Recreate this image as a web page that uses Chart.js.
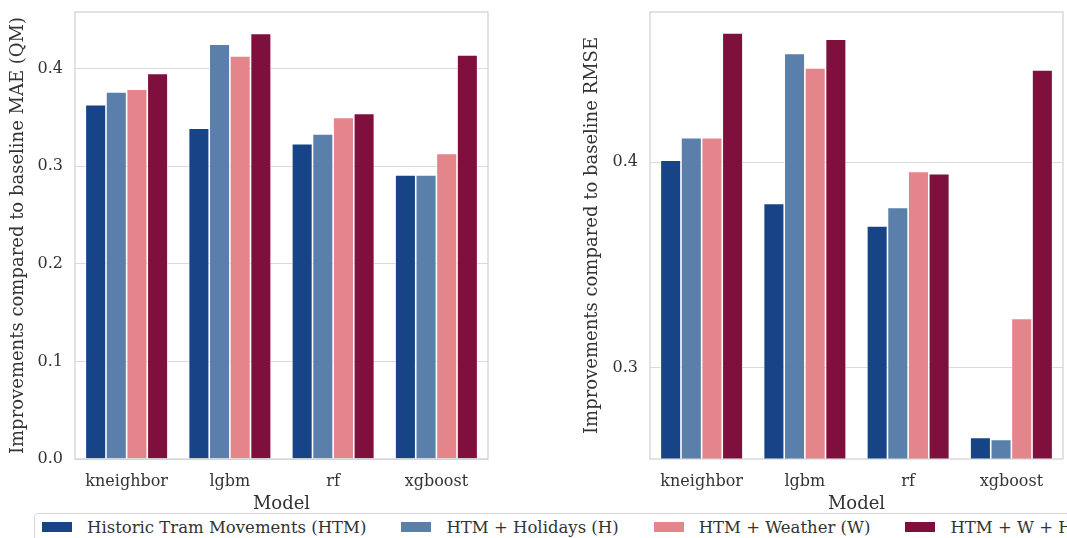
<!DOCTYPE html>
<html>
<head>
<meta charset="utf-8">
<script src="https://cdn.jsdelivr.net/npm/chart.js@4"></script>
<style>
  html, body { margin:0; padding:0; background:#fff; width:1067px; height:538px; overflow:hidden; position:relative; }
  .cw { position:absolute; top:0; }
  #legend { position:absolute; left:34px; top:513px; height:40px; border:1px solid #d6d6d6; border-radius:4px;
            display:flex; align-items:flex-start; white-space:nowrap; padding-left:7px; padding-right:20px;
            font-family:"DejaVu Serif", serif; font-size:16.5px; color:#333; background:#fff; }
  .item { display:flex; align-items:center; height:26px; margin-right:35px; }
  .sw { width:30px; height:10px; margin-right:15px; }
</style>
</head>
<body>
<div class="cw" style="left:0px;width:500px;height:515px;"><canvas id="c1"></canvas></div>
<div class="cw" style="left:574px;width:493px;height:515px;"><canvas id="c2"></canvas></div>
<div id="legend"></div>
<script>
const models = ['kneighbor', 'lgbm', 'rf', 'xgboost'];
const seriesNames = ['Historic Tram Movements (HTM)', 'HTM + Holidays (H)', 'HTM + Weather (W)', 'HTM + W + H'];
const seriesColors = ['#164487', '#5a7fab', '#e3858b', '#7f0f3c'];

const maeHTM = [0.363, 0.339, 0.323, 0.291];
const maeH   = [0.376, 0.425, 0.333, 0.291];
const maeW   = [0.379, 0.413, 0.350, 0.313];
const maeWH  = [0.395, 0.436, 0.354, 0.414];

const rmseHTM = [0.401, 0.380, 0.369, 0.266];
const rmseH   = [0.412, 0.453, 0.378, 0.265];
const rmseW   = [0.412, 0.446, 0.3955, 0.324];
const rmseWH  = [0.463, 0.460, 0.3945, 0.445];

const maeTitle = 'Improvements compared to baseline MAE (QM)';
const rmseTitle = 'Improvements compared to baseline RMSE';
const xTitle = 'Model';

const FONT = '"DejaVu Serif", serif';
const TXT = '#333';
const GRID = '#d9d9d9';

const boxPlugin = {
  id: 'box',
  afterDatasetsDraw(chart) {
    const a = chart.chartArea, ctx = chart.ctx;
    ctx.save();
    ctx.strokeStyle = '#d0d0d0';
    ctx.lineWidth = 1.2;
    ctx.strokeRect(a.left, a.top, a.right - a.left, a.bottom - a.top);
    ctx.restore();
  }
};

function makeChart(id, series, yTitle, ymin, ymax, yAxisWidth, padRight) {
  return new Chart(document.getElementById(id), {
    type: 'bar',
    data: {
      labels: models,
      datasets: series.map((d, i) => ({
        label: seriesNames[i],
        data: d,
        backgroundColor: seriesColors[i],
        borderColor: '#ffffff',
        borderWidth: {left: 0.8, right: 0.8, top: 0.8, bottom: 0},
        borderSkipped: false,
        categoryPercentage: 0.8,
        barPercentage: 1.0
      }))
    },
    options: {
      responsive: true,
      maintainAspectRatio: false,
      animation: false,
      layout: { padding: { left: 8, right: padRight, top: 12, bottom: 0 } },
      plugins: { legend: { display: false }, tooltip: { enabled: false } },
      scales: {
        x: {
          grid: { display: false, drawTicks: false },
          border: { display: false },
          ticks: { color: TXT, font: { family: FONT, size: 16 }, padding: 13 },
          title: { display: true, text: xTitle, color: TXT, font: { family: FONT, size: 18 }, padding: 0 },
          afterFit(s) { s.height = 56; s.paddingLeft = 0; s.paddingRight = 0; }
        },
        y: {
          min: ymin, max: ymax,
          grid: { color: GRID, lineWidth: 1, drawTicks: false },
          border: { display: false },
          ticks: { stepSize: 0.1, includeBounds: false, color: TXT, font: { family: FONT, size: 16 }, padding: 12,
                   callback: v => v.toFixed(1) },
          title: { display: true, text: yTitle, color: TXT, font: { family: FONT, size: 18 }, padding: 0 },
          afterFit(s) { s.width = yAxisWidth; s.paddingTop = 0; s.paddingBottom = 0; }
        }
      }
    },
    plugins: [boxPlugin]
  });
}

makeChart('c1', [maeHTM, maeH, maeW, maeWH], maeTitle, 0, 0.458, 67, 12);
makeChart('c2', [rmseHTM, rmseH, rmseW, rmseWH], rmseTitle, 0.2555, 0.4732, 68, 4);

const leg = document.getElementById('legend');
seriesNames.forEach((n, i) => {
  const it = document.createElement('div'); it.className = 'item';
  const sw = document.createElement('span'); sw.className = 'sw'; sw.style.background = seriesColors[i];
  const tx = document.createElement('span'); tx.textContent = n;
  it.appendChild(sw); it.appendChild(tx); leg.appendChild(it);
});
</script>
</body>
</html>
